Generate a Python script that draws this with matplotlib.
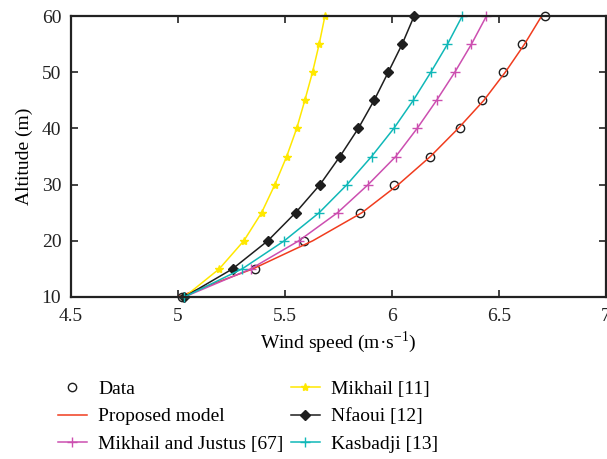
"""Wind speed profiles: measured data vs extrapolation models"""
import matplotlib.pyplot as plt

plt.rcParams['font.family'] = ['Liberation Serif', 'DejaVu Serif']
plt.rcParams['mathtext.fontset'] = 'custom'
plt.rcParams['mathtext.rm'] = 'Liberation Serif'

altitude = [10, 15, 20, 25, 30, 35, 40, 45, 50, 55, 60]
data = [5.02, 5.36, 5.59, 5.85, 6.01, 6.18, 6.32, 6.42, 6.52, 6.61, 6.715]
proposed = [5.0, 5.35, 5.63, 5.86, 6.03, 6.18, 6.31, 6.43, 6.53, 6.62, 6.70]
mikhail_justus = [5.03, 5.34, 5.565, 5.746, 5.889, 6.018, 6.118, 6.209, 6.294, 6.372, 6.442]
mikhail = [5.03, 5.193, 5.308, 5.391, 5.453, 5.508, 5.555, 5.593, 5.629, 5.66, 5.687]
nfaoui = [5.03, 5.255, 5.42, 5.55, 5.664, 5.757, 5.843, 5.917, 5.983, 6.048, 6.104]
kasbadji = [5.03, 5.30, 5.497, 5.66, 5.79, 5.905, 6.009, 6.10, 6.182, 6.26, 6.329]

fig = plt.figure(figsize=(6.07, 4.59), dpi=100)
ax = fig.add_axes([0.117, 0.353, 0.881, 0.612])

ax.plot(proposed, altitude, color='#f03c1e', lw=1.1, label='Proposed model', clip_on=False)
ax.plot(mikhail_justus, altitude, color='#cc4fb0', lw=1.1, marker='+', ms=7,
        label='Mikhail and Justus [67]', clip_on=False)
ax.plot(mikhail, altitude, color='#ffe800', lw=1.1, marker='*', ms=6,
        label='Mikhail [11]', clip_on=False)
ax.plot(nfaoui, altitude, color='#1e1e1e', lw=1.1, marker='D', ms=5,
        label='Nfaoui [12]', clip_on=False)
ax.plot(kasbadji, altitude, color='#10b8b8', lw=1.1, marker='+', ms=7,
        label='Kasbadji [13]', clip_on=False)
ax.plot(data, altitude, ls='none', marker='o', ms=6, mfc='none', mec='#1e1e1e',
        mew=1.0, label='Data', clip_on=False, zorder=1.9)

ax.set_xlim(4.5, 7)
ax.set_ylim(10, 60)
ax.set_xticks([4.5, 5, 5.5, 6, 6.5, 7])
ax.set_xticklabels(['4.5', '5', '5.5', '6', '6.5', '7'])
ax.set_yticks([10, 20, 30, 40, 50, 60])
ax.tick_params(direction='in', top=True, right=True, labelsize=14, length=5,
               width=1.2, colors='#222222')
ax.tick_params(axis='x', pad=8)
ax.tick_params(axis='y', pad=7)
for s in ax.spines.values():
    s.set_linewidth(1.6)
    s.set_color('#222222')

ax.set_xlabel('Wind speed (m·s$^{-1}$)', fontsize=14, labelpad=3)
ax.set_ylabel('Altitude (m)', fontsize=14, labelpad=6)

handles, labels = ax.get_legend_handles_labels()
order = ['Data', 'Proposed model', 'Mikhail and Justus [67]',
         'Mikhail [11]', 'Nfaoui [12]', 'Kasbadji [13]']
hmap = dict(zip(labels, handles))
fig.legend([hmap[k] for k in order], order, ncol=2, loc='upper left',
           bbox_to_anchor=(0.082, 0.188), frameon=False, fontsize=14,
           handlelength=1.5, handletextpad=0.6, columnspacing=0.35,
           labelspacing=0.5, borderaxespad=0)

fig.savefig('out.png', dpi=100)
